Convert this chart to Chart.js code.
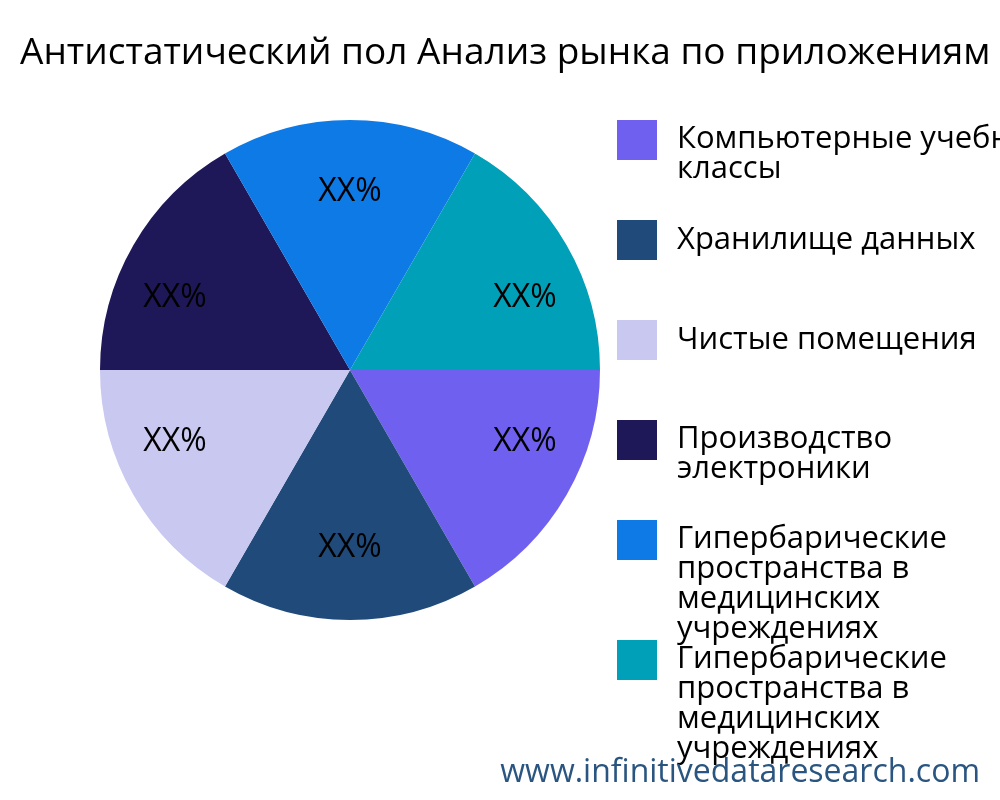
<!DOCTYPE html>
<html><head><meta charset="utf-8">
<script src="https://cdn.jsdelivr.net/npm/chart.js"></script>
<style>
body{margin:0;width:1000px;height:800px;overflow:hidden;background:#fff;font-family:"Open Sans",sans-serif;position:relative}
#title{position:absolute;left:20px;top:24px;white-space:nowrap;font-size:37px;color:#000}
canvas{position:absolute;left:0;top:0}
.li{position:absolute;left:617px;white-space:nowrap}
.sw{position:absolute;left:0;top:0;width:40px;height:40px}
.tx{position:absolute;left:60px;top:0;font-size:31px;line-height:30px;color:#000}
#wm{position:absolute;right:20px;top:748px;font-size:32px;color:#2a5580}
</style></head><body>
<canvas id="c" width="1000" height="800"></canvas>
<div id="title">Антистатический пол Анализ рынка по приложениям</div>
<div id="legend"></div>
<div id="wm">www.infinitivedataresearch.com</div>
<script>
const categories=["Компьютерные учебные классы","Хранилище данных","Чистые помещения","Производство электроники","Гипербарические пространства в медицинских учреждениях","Гипербарические пространства в медицинских учреждениях"];
const legendLines=[["Компьютерные учебные","классы"],["Хранилище данных"],["Чистые помещения"],["Производство","электроники"],["Гипербарические","пространства в","медицинских","учреждениях"],["Гипербарические","пространства в","медицинских","учреждениях"]];
const values=[1,1,1,1,1,1];
const labels=["XX%","XX%","XX%","XX%","XX%","XX%"];
const colors=["#7060f0","#1f4a7a","#c8c8f0","#1e1858","#0e7ae6","#00a0b8"];
const legendTops=[120,220,320,420,520,640];
const lg=document.getElementById('legend');
categories.forEach((c,i)=>{const d=document.createElement('div');d.className='li';d.style.top=legendTops[i]+'px';
d.innerHTML='<div class="sw" style="background:'+colors[i]+'"></div><div class="tx" style="top:'+(legendLines[i].length>1?1:2)+'px">'+legendLines[i].join('<br>')+'</div>';lg.appendChild(d);});
const lblPlugin={id:'lbl',afterDatasetsDraw(ch){const ctx=ch.ctx;ctx.save();ctx.font='32px "Open Sans"';ctx.fillStyle='#000';ctx.textAlign='center';ctx.textBaseline='middle';
ch.getDatasetMeta(0).data.forEach((a,i)=>{const m=(a.startAngle+a.endAngle)/2;const d=a.outerRadius*0.712;
const side=Math.abs(Math.cos(m))>0.5;const x=a.x+Math.cos(m)*d*(side?1.135:1);const y=a.y+Math.sin(m)*d*(side?0.81:1);ctx.fillText(labels[i],x,y);});ctx.restore();}};
new Chart(document.getElementById('c'),{type:'pie',data:{labels:categories,datasets:[{data:values,backgroundColor:colors,borderWidth:0}]},
options:{responsive:false,animation:false,rotation:90,layout:{padding:{left:0,right:300,top:120,bottom:180}},plugins:{legend:{display:false},tooltip:{enabled:false}}},plugins:[lblPlugin]});
</script></body></html>
